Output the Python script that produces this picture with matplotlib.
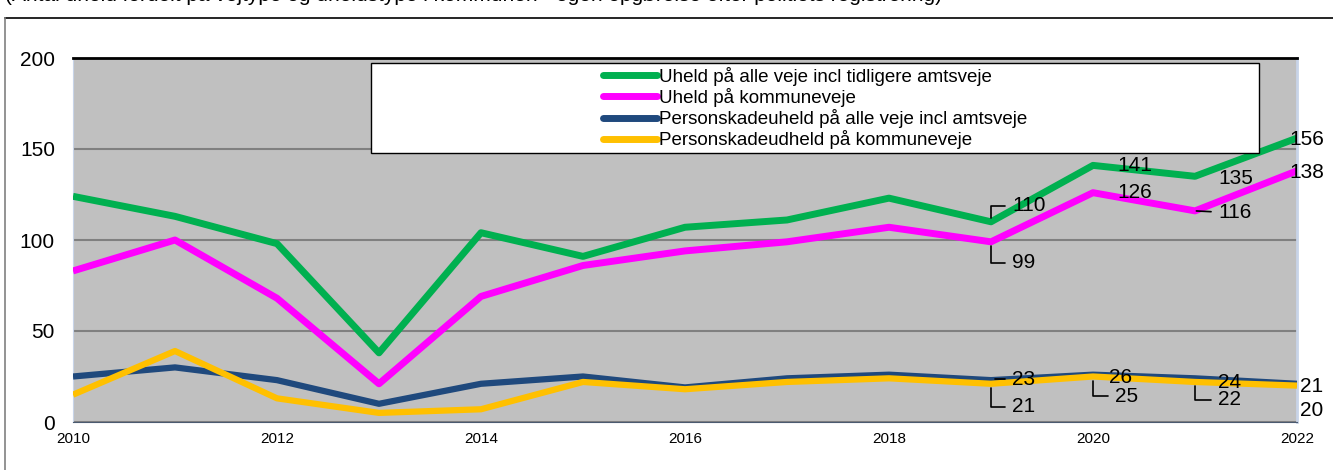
import numpy as np
import matplotlib.pyplot as plt
from matplotlib.lines import Line2D
from matplotlib.patches import Rectangle

plt.rcParams['font.family'] = ['Liberation Sans', 'DejaVu Sans']

years = list(range(2010, 2023))
alle_uheld = [124, 113, 98, 38, 104, 91, 107, 111, 123, 110, 141, 135, 156]
kommune_uheld = [83, 100, 68, 21, 69, 86, 94, 99, 107, 99, 126, 116, 138]
person_alle = [25, 30, 23, 10, 21, 25, 19, 24, 26, 23, 26, 24, 21]
person_kommune = [15, 39, 13, 5, 7, 22, 18, 22, 24, 21, 25, 22, 20]

navne = ['Uheld på alle veje incl tidligere amtsveje',
         'Uheld på kommuneveje',
         'Personskadeuheld på alle veje incl amtsveje',
         'Personskadeudheld på kommuneveje']
farver = ['#00B050', '#FF00FF', '#1F497D', '#FFC000']
titel = '(Antal uheld fordelt på vejtype og uheldstype i kommunen - egen opgørelse efter politiets registrering)'

W, H = 1333, 470
fig = plt.figure(figsize=(W / 100, H / 100), dpi=100)

# cut-off heading (only the lowest part visible) and outer frame
fig.text(5 / W, 1 - 5 / H, titel, fontsize=15, va='bottom', ha='left')
fig.add_artist(Line2D([5 / W, 1], [1 - 18 / H, 1 - 18 / H], color='black', lw=1.2))
fig.add_artist(Line2D([5 / W, 5 / W], [0, 1 - 18 / H], color='#808080', lw=1.2))

ax = fig.add_axes([73 / W, 48 / H, (1297 - 73) / W, (422 - 58) / H])
ax.set_facecolor('#C0C0C0')

series = [alle_uheld, kommune_uheld, person_alle, person_kommune]
bredder = [5, 5, 4.5, 4.5]
for s, navn, c, lw in zip(series, navne, farver, bredder):
    ax.plot(years, s, color=c, lw=lw, label=navn, solid_capstyle='butt', zorder=3)

ax.set_xlim(2010, 2022)
ax.set_ylim(0, 200)
ax.set_yticks([0, 50, 100, 150, 200])
ax.set_xticks(range(2010, 2023, 2))
ax.tick_params(axis='y', length=0, labelsize=15, pad=13)
ax.tick_params(axis='x', length=0, labelsize=11, pad=7)
ax.grid(axis='y', color='#808080', lw=1.5)
ax.set_axisbelow(True)
ax.spines['top'].set_color('black')
ax.spines['top'].set_linewidth(2)
ax.spines['left'].set_color('#C8D4E8')
ax.spines['right'].set_color('#C8D4E8')
ax.spines['right'].set_linewidth(2)
ax.spines['bottom'].set_color('#4A5A70')

# legend box
boks = Rectangle(((371 - 73) / (1297 - 73), (422 - 153) / 364),
                 (1259 - 371) / (1297 - 73), 90 / 364,
                 transform=ax.transAxes, facecolor='white', edgecolor='black',
                 lw=1, zorder=4)
ax.add_patch(boks)
leg = ax.legend(loc='center',
                bbox_to_anchor=((815 - 73) / (1297 - 73), (422 - 108) / 364),
                frameon=False, fontsize=13.5, handlelength=2.9, handletextpad=0.1,
                labelspacing=0.12, borderpad=0)
leg.set_zorder(5)
for h in leg.get_lines():
    h.set_linewidth(5)
    h.set_solid_capstyle('round')

# data labels: (series, year index, dx, dy in pixels, leader)
px = 1 / 1.389
etiketter = [
    (alle_uheld, 9, 21, 16, True),
    (kommune_uheld, 9, 21, -21, True),
    (alle_uheld, 10, 24, 0, False),
    (kommune_uheld, 10, 24, 0, False),
    (alle_uheld, 11, 23, -2, False),
    (kommune_uheld, 11, 23, -2, 'dash'),
    (alle_uheld, 12, -8, -1, False),
    (kommune_uheld, 12, -8, -2, False),
    (person_alle, 9, 21, 1, True),
    (person_kommune, 9, 21, -23, True),
    (person_alle, 10, 16, -3, False),
    (person_kommune, 10, 22, -20, True),
    (person_alle, 11, 23, -4, False),
    (person_kommune, 11, 23, -18, True),
    (person_alle, 12, 3, -3, False),
    (person_kommune, 12, 3, -25, False),
]
for s, i, dx, dy, leader in etiketter:
    kw = {}
    if leader is True:
        kw['arrowprops'] = dict(arrowstyle='-', color='black', lw=1.2,
                                connectionstyle='angle,angleA=0,angleB=90',
                                shrinkA=3, shrinkB=3)
    elif leader == 'dash':
        kw['arrowprops'] = dict(arrowstyle='-', color='black', lw=1.2,
                                shrinkA=3, shrinkB=1)
    ax.annotate(str(s[i]), xy=(years[i], s[i]),
                xytext=(dx * px, dy * px), textcoords='offset points',
                ha='left', va='center', fontsize=15, zorder=6,
                annotation_clip=False, **kw)

fig.savefig('out.png', dpi=100)
